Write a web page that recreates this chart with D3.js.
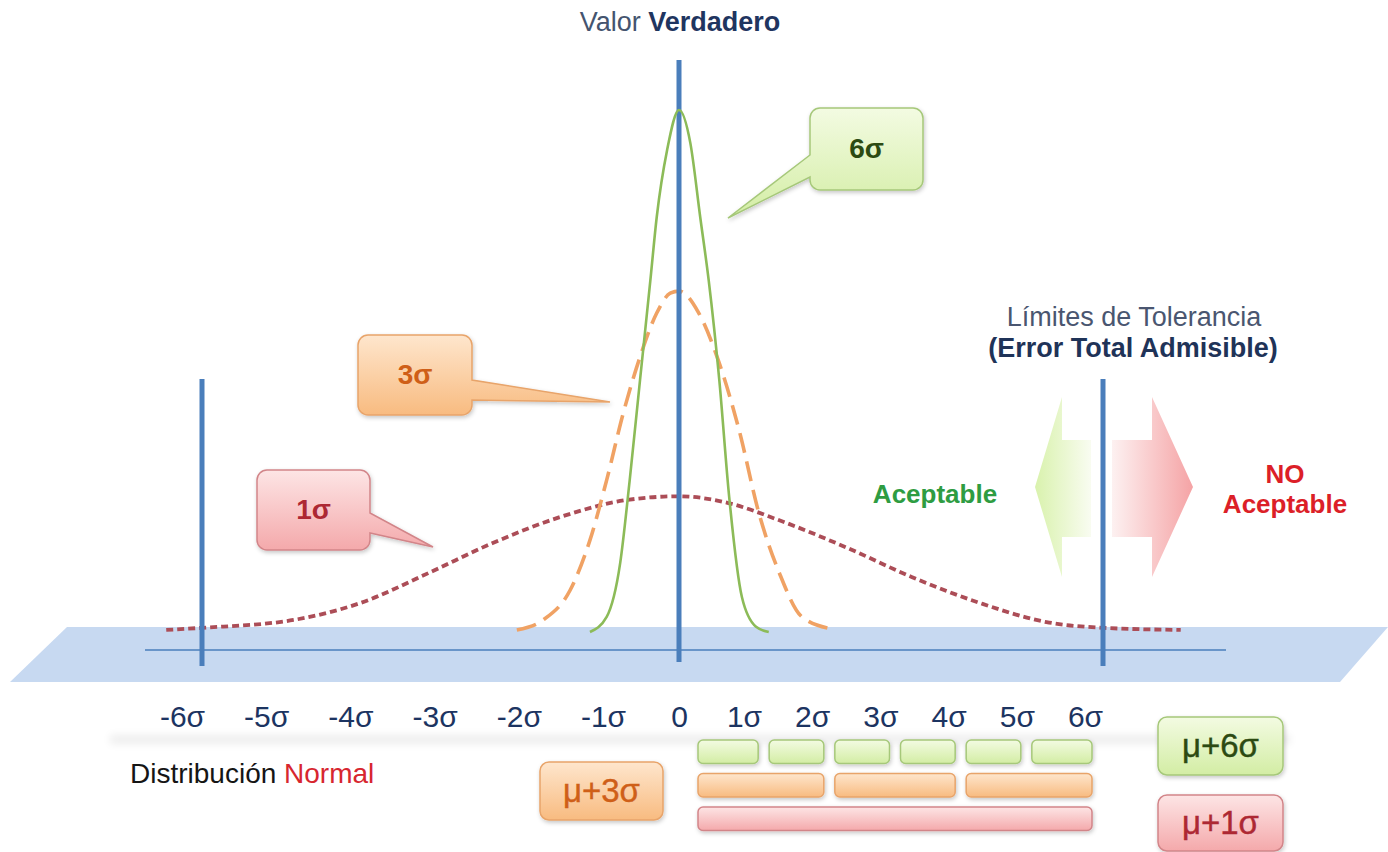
<!DOCTYPE html>
<html>
<head>
<meta charset="utf-8">
<script src="https://cdn.jsdelivr.net/npm/d3@7"></script>
<style>
  html, body { margin: 0; padding: 0; background: #ffffff; }
  svg { display: block; font-family: "Liberation Sans", Arial, sans-serif; }
</style>
</head>
<body>
<svg id="chart" width="1388" height="852"></svg>
<script>
// Axis positions, in units of sigma
const sigmaTicks = [-6, -5, -4, -3, -2, -1, 0, 1, 2, 3, 4, 5, 6];
const toleranceLimits = [-6, 6];
const trueValue = 0;

// Curve for the 1-sigma process (x in sigma, height in relative units)
const curve1X = [-6.45, -6, -4.85, -4, -3.15, -2.35, -1.5, -0.65, 0, 0.7, 1.4, 2.35, 3.3, 4.25, 5.2, 6, 7.1];
const curve1Y = [0.4, 0.8, 2.3, 5.6, 11.3, 17, 22, 25.3, 26, 24.7, 21.5, 16.3, 10.5, 5.6, 1.9, 0.8, 0.4];

// Curve for the 3-sigma process
const curve3X = [-2.04, -1.71, -1.37, -1.12, -0.91, -0.7, -0.49, -0.28, -0.11, 0, 0.28, 0.57, 0.85, 1.13, 1.42, 1.74, 2.16];
const curve3Y = [0.4, 2.3, 8.0, 17.6, 29.1, 42.0, 52.7, 61.1, 64.9, 65.3, 61.1, 51.5, 38.7, 22.8, 11.3, 2.9, 0.6];

// Curve for the 6-sigma process
const curve6X = [-1.12, -0.91, -0.74, -0.62, -0.49, -0.36, -0.28, -0.15, 0, 0.16, 0.3, 0.42, 0.57, 0.71, 0.89, 1.09, 1.27];
const curve6Y = [0, 2.9, 13.2, 29.1, 48.3, 67.4, 79.5, 92.3, 100, 93.7, 79.5, 67.4, 48.3, 25.9, 6.7, 1.0, 0];

// Segments of the 0..6σ tolerance range covered by each process
const segmentLabels = ["μ+6σ", "μ+3σ", "μ+1σ"];
const segmentCounts = [6, 3, 1];

const svg = d3.select("#chart");
const defs = svg.append("defs");

// ---- scales ----
const x = d3.scaleLinear().domain([-6, 0, 6]).range([202, 679, 1103]);
const y = d3.scaleLinear().domain([0, 100]).range([632, 110]);
const xLabel = d3.scaleLinear().domain([-6, -1, 0, 1, 6]).range([182, 603, 679, 744, 1085]);
const xSeg = d3.scaleLinear().domain([0, 6]).range([698, 1092]);
const rowBand = d3.scaleBand().domain(d3.range(segmentCounts.length)).range([740, 830.5]).paddingInner(0.3);

// ---- gradients and filters ----
function vGrad(id, top, bottom) {
  const g = defs.append("linearGradient").attr("id", id).attr("x1", 0).attr("y1", 0).attr("x2", 0).attr("y2", 1);
  g.append("stop").attr("offset", "0%").attr("stop-color", top);
  g.append("stop").attr("offset", "100%").attr("stop-color", bottom);
}
function hGrad(id, left, right) {
  const g = defs.append("linearGradient").attr("id", id).attr("x1", 0).attr("y1", 0).attr("x2", 1).attr("y2", 0);
  g.append("stop").attr("offset", "0%").attr("stop-color", left);
  g.append("stop").attr("offset", "100%").attr("stop-color", right);
}
vGrad("gGreen", "#f3fbe2", "#d3eda4");
vGrad("gOrange", "#fee6cd", "#f8bb80");
vGrad("gRed", "#fde5e5", "#f4a9ab");
hGrad("arrowGreen", "#d9f2ad", "#f9fcf1");
hGrad("arrowRed", "#fdf1f1", "#f5a3a5");

const shadow = defs.append("filter").attr("id", "shadow").attr("x", "-20%").attr("y", "-20%").attr("width", "140%").attr("height", "150%");
shadow.append("feDropShadow").attr("dx", 1).attr("dy", 2).attr("stdDeviation", 2)
  .attr("flood-color", "#000").attr("flood-opacity", 0.22);
const soft = defs.append("filter").attr("id", "soft").attr("x", "-10%").attr("y", "-200%").attr("width", "120%").attr("height", "500%");
soft.append("feGaussianBlur").attr("stdDeviation", 4);

const palette = {
  green: { fill: "url(#gGreen)", stroke: "#a6c87a", text: "#2c4a12" },
  orange: { fill: "url(#gOrange)", stroke: "#e8a46a", text: "#cf5f18" },
  red: { fill: "url(#gRed)", stroke: "#d28589", text: "#ad2833" }
};
const rowColors = ["green", "orange", "red"];

// ---- base plane and axis ----
svg.append("polygon")
  .attr("points", "67,627 1388,627 1340,682 10,682")
  .attr("fill", "#c7d9f1");

svg.append("line")
  .attr("x1", 145).attr("x2", 1226)
  .attr("y1", 650).attr("y2", 650)
  .attr("stroke", "#4a7ebb").attr("stroke-width", 1.6);

// ---- distribution curves ----
const line = d3.line().x(d => x(d[0])).y(d => y(d[1])).curve(d3.curveMonotoneX);
const zip = (a, b) => a.map((v, i) => [v, b[i]]);

svg.append("path").datum(zip(curve1X, curve1Y))
  .attr("d", line).attr("fill", "none")
  .attr("stroke", "#ac4d57").attr("stroke-width", 3.8).attr("stroke-dasharray", "7,4");

svg.append("path").datum(zip(curve3X, curve3Y))
  .attr("d", line).attr("fill", "none")
  .attr("stroke", "#f0a264").attr("stroke-width", 3.6).attr("stroke-dasharray", "20,9");

// ---- vertical reference lines ----
svg.append("line")
  .attr("x1", x(trueValue)).attr("x2", x(trueValue))
  .attr("y1", 60).attr("y2", 662)
  .attr("stroke", "#4a7ebb").attr("stroke-width", 5);

svg.selectAll(".limit").data(toleranceLimits).enter().append("line")
  .attr("class", "limit")
  .attr("x1", d => x(d)).attr("x2", d => x(d))
  .attr("y1", 379).attr("y2", 666)
  .attr("stroke", "#4a7ebb").attr("stroke-width", 5);

svg.append("path").datum(zip(curve6X, curve6Y))
  .attr("d", line).attr("fill", "none")
  .attr("stroke", "#8cbb58").attr("stroke-width", 2.6);

// ---- sigma labels ----
svg.append("rect")
  .attr("x", 110).attr("y", 735).attr("width", 1180).attr("height", 9)
  .attr("fill", "#000").attr("opacity", 0.07).attr("filter", "url(#soft)");

const axis = d3.axisBottom(xLabel)
  .tickValues(sigmaTicks)
  .tickSize(0)
  .tickPadding(0)
  .tickFormat(d => d === 0 ? "0" : d + "σ");
const gAxis = svg.append("g").attr("transform", "translate(0,727)").call(axis);
gAxis.select(".domain").remove();
gAxis.selectAll("text")
  .attr("dy", 0).attr("y", 0)
  .attr("fill", "#1c3461")
  .style("font-size", "30px")
  .style("font-family", "'Liberation Sans', Arial, sans-serif");

// ---- titles ----
const title = svg.append("text").attr("x", 680).attr("y", 31).attr("text-anchor", "middle").style("font-size", "27px");
title.append("tspan").attr("fill", "#44546f").text("Valor ");
title.append("tspan").attr("fill", "#1f3560").attr("font-weight", "bold").text("Verdadero");

svg.append("text").attr("x", 1134).attr("y", 326).attr("text-anchor", "middle")
  .style("font-size", "27px").attr("fill", "#4a5670").text("Límites de Tolerancia");
svg.append("text").attr("x", 1133).attr("y", 357).attr("text-anchor", "middle")
  .style("font-size", "27px").attr("font-weight", "bold").attr("fill", "#1f3358").text("(Error Total Admisible)");

// ---- acceptance arrows ----
svg.append("path")
  .attr("d", "M1035,487 L1062,397 L1062,440 L1091,440 L1091,537 L1062,537 L1062,577 Z")
  .attr("fill", "url(#arrowGreen)");
svg.append("path")
  .attr("d", "M1193,487 L1152,397 L1152,440 L1112,440 L1112,537 L1152,537 L1152,577 Z")
  .attr("fill", "url(#arrowRed)");

svg.append("text").attr("x", 935).attr("y", 503).attr("text-anchor", "middle")
  .style("font-size", "26px").attr("font-weight", "bold").attr("fill", "#2e9c42").text("Aceptable");
const noAcc = svg.append("text").attr("text-anchor", "middle")
  .style("font-size", "26px").attr("font-weight", "bold").attr("fill", "#dc1f28");
noAcc.append("tspan").attr("x", 1285).attr("y", 483).text("NO");
noAcc.append("tspan").attr("x", 1285).attr("y", 513).text("Aceptable");

// ---- callouts ----
function calloutPath(bx, by, w, h, r, side, a, b, tip) {
  const p = d3.path();
  p.moveTo(bx + r, by);
  p.lineTo(bx + w - r, by);
  p.arcTo(bx + w, by, bx + w, by + r, r);
  if (side === "right") {
    p.lineTo(bx + w, a);
    p.lineTo(tip[0], tip[1]);
    p.lineTo(bx + w, b);
  }
  p.lineTo(bx + w, by + h - r);
  p.arcTo(bx + w, by + h, bx + w - r, by + h, r);
  p.lineTo(bx + r, by + h);
  p.arcTo(bx, by + h, bx, by + h - r, r);
  if (side === "left") {
    p.lineTo(bx, b);
    p.lineTo(tip[0], tip[1]);
    p.lineTo(bx, a);
  }
  p.lineTo(bx, by + r);
  p.arcTo(bx, by, bx + r, by, r);
  p.closePath();
  return p.toString();
}

const callouts = [
  { label: "6σ", color: "green", box: [810, 108, 113, 82], side: "left", a: 155, b: 177, tip: [728, 218] },
  { label: "3σ", color: "orange", box: [358, 335, 114, 80], side: "right", a: 380, b: 400, tip: [610, 402] },
  { label: "1σ", color: "red", box: [257, 470, 113, 80], side: "right", a: 513, b: 533, tip: [433, 547] }
];

callouts.forEach(c => {
  const [bx, by, w, h] = c.box;
  const col = palette[c.color];
  svg.append("path")
    .attr("d", calloutPath(bx, by, w, h, 10, c.side, c.a, c.b, c.tip))
    .attr("fill", col.fill).attr("stroke", col.stroke).attr("stroke-width", 1.5)
    .attr("filter", "url(#shadow)");
  svg.append("text")
    .attr("x", bx + w / 2).attr("y", by + h / 2 + 9)
    .attr("text-anchor", "middle")
    .style("font-size", "28px").attr("font-weight", "bold")
    .attr("fill", col.text).text(c.label);
});

// ---- tolerance segments ----
const gap = 5.5;
segmentCounts.forEach((n, row) => {
  const col = palette[rowColors[row]];
  const parts = d3.range(n).map(i => [i * 6 / n, (i + 1) * 6 / n]);
  svg.append("g").selectAll("rect").data(parts).enter().append("rect")
    .attr("x", d => xSeg(d[0]) + (d[0] > 0 ? gap : 0))
    .attr("y", rowBand(row))
    .attr("width", d => xSeg(d[1]) - xSeg(d[0]) - (d[0] > 0 ? gap : 0) - (d[1] < 6 ? gap : 0))
    .attr("height", rowBand.bandwidth())
    .attr("rx", 5)
    .attr("fill", col.fill).attr("stroke", col.stroke).attr("stroke-width", 1.5)
    .attr("filter", "url(#shadow)");
});

// ---- segment legend boxes ----
const legendBoxes = [
  { row: 0, box: [1158, 717, 125, 58] },
  { row: 1, box: [540, 762, 123, 58] },
  { row: 2, box: [1158, 795, 125, 56] }
];
legendBoxes.forEach(l => {
  const [bx, by, w, h] = l.box;
  const col = palette[rowColors[l.row]];
  svg.append("rect")
    .attr("x", bx).attr("y", by).attr("width", w).attr("height", h).attr("rx", 9)
    .attr("fill", col.fill).attr("stroke", col.stroke).attr("stroke-width", 1.5)
    .attr("filter", "url(#shadow)");
  svg.append("text")
    .attr("x", bx + w / 2).attr("y", by + h / 2 + 11)
    .attr("text-anchor", "middle")
    .style("font-size", "33px")
    .attr("fill", col.text)
    .attr("stroke", col.text).attr("stroke-width", 0.4)
    .text(segmentLabels[l.row]);
});

// ---- caption ----
const caption = svg.append("text").attr("x", 130).attr("y", 783).style("font-size", "28px");
caption.append("tspan").attr("fill", "#151515").text("Distribución ");
caption.append("tspan").attr("fill", "#d7262f").text("Normal");
</script>
</body>
</html>
